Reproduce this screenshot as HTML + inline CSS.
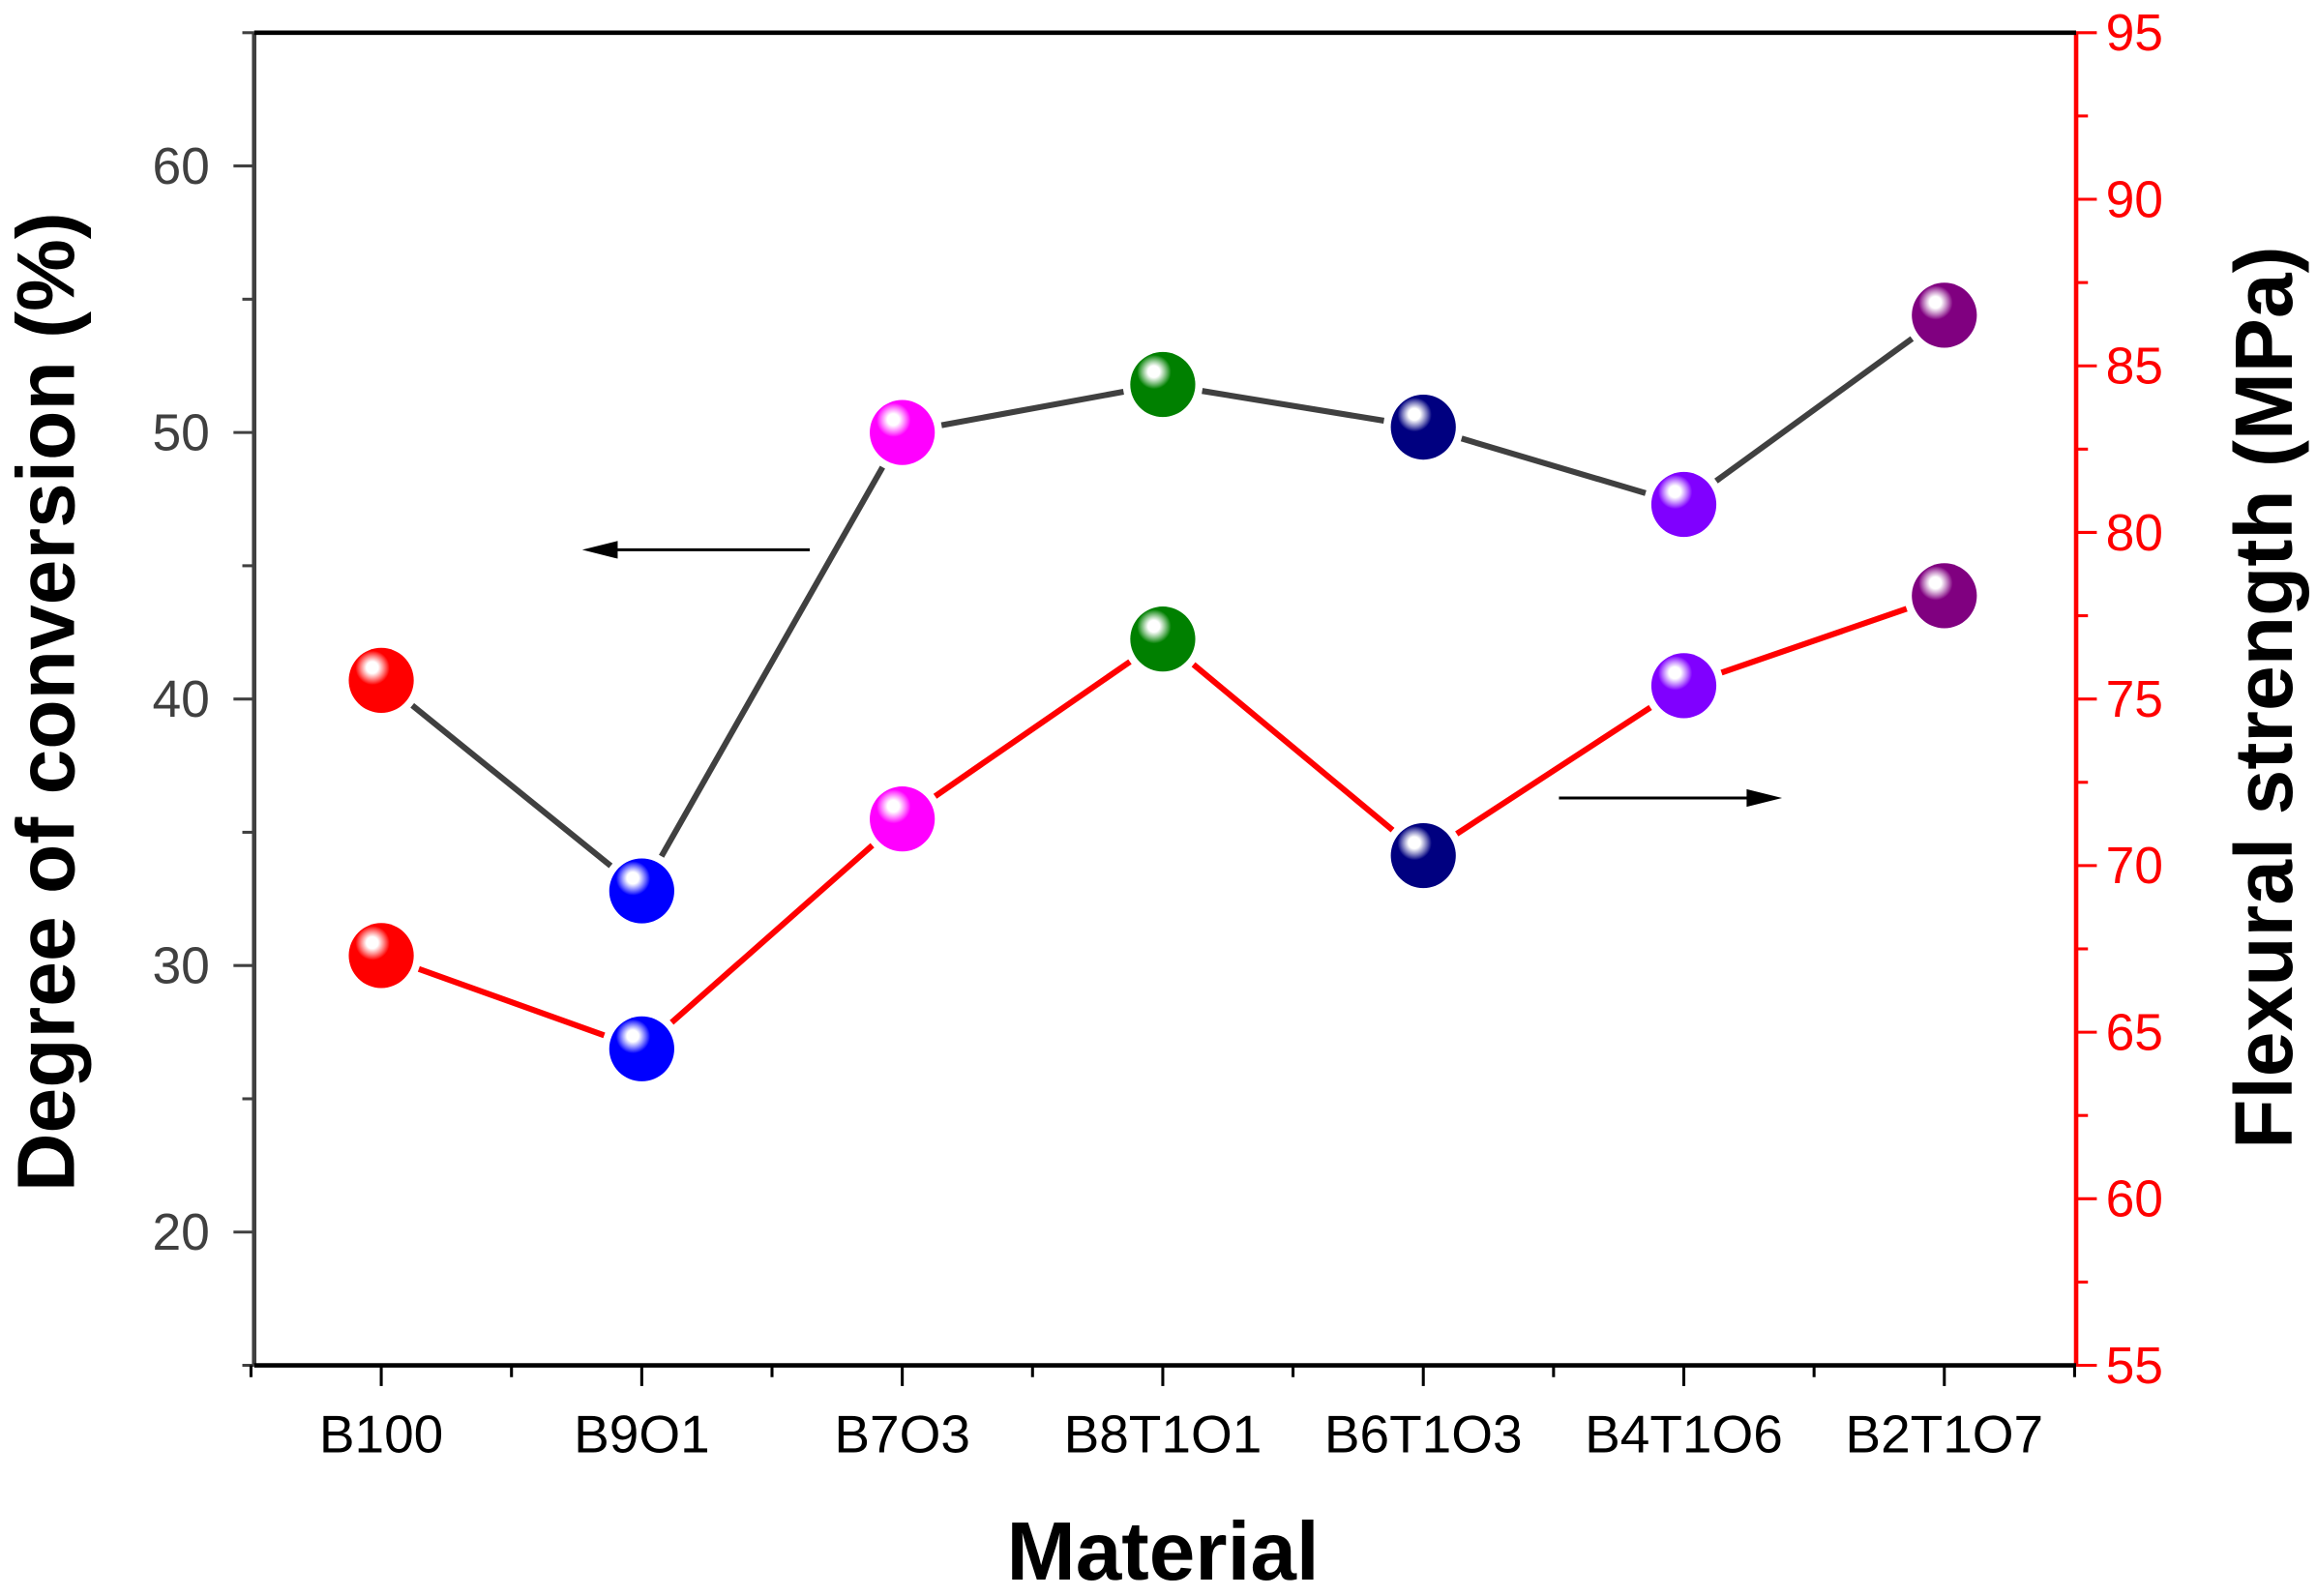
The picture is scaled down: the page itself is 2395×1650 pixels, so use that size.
<!DOCTYPE html>
<html><head><meta charset="utf-8"><style>
html,body{margin:0;padding:0;background:#fff}
svg{display:block}
text{font-family:"Liberation Sans",Arial,sans-serif}
</style></head><body>
<svg id="chart" width="2395" height="1650" viewBox="0 0 1568 1080" xmlns="http://www.w3.org/2000/svg">
<defs id="defs"></defs>
<g id="axes"></g>
<g id="series"></g>
<text x="0" y="0" transform="translate(50,475) rotate(-90)" text-anchor="middle" font-size="55" font-weight="bold" fill="#000">Degree of conversion (%)</text>
<text x="0" y="0" transform="translate(1551,472) rotate(-90)" text-anchor="middle" font-size="55" font-weight="bold" fill="#000">Flexural strength (MPa)</text>
<text x="787" y="1069" text-anchor="middle" font-size="56" font-weight="bold" fill="#000">Material</text>
<g>
<line x1="548" y1="372" x2="410" y2="372" stroke="#000" stroke-width="2"/>
<polygon points="394,372 418,366 418,378" fill="#000"/>
</g>
<g>
<line x1="1055" y1="540" x2="1190" y2="540" stroke="#000" stroke-width="2"/>
<polygon points="1206,540 1182,534 1182,546" fill="#000"/>
</g>
</svg>
<script>
const categories = ["B100","B9O1","B7O3","B8T1O1","B6T1O3","B4T1O6","B2T1O7"];
const conversion = [40.7, 32.8, 50.0, 51.8, 50.2, 47.3, 54.4];
const flexural = [67.3, 64.5, 71.4, 76.8, 70.3, 75.4, 78.1];
const markerColors = ["#ff0000","#0000ff","#ff00ff","#008000","#000080","#8000ff","#800080"];
const leftTicks = [20,30,40,50,60];
const rightTicks = [55,60,65,70,75,80,85,90,95];

const NS="http://www.w3.org/2000/svg";
const L=172,R=1405,T=22,B=924;
const xs=i=>258+i*176.3;
const yl=v=>B-(v-15)/50*(B-T);
const yr=v=>B-(v-55)/40*(B-T);
function mk(tag,attrs,parent){const e=document.createElementNS(NS,tag);for(const k in attrs)e.setAttribute(k,attrs[k]);parent.appendChild(e);return e;}
const axes=document.getElementById('axes'),series=document.getElementById('series'),defs=document.getElementById('defs');
let e;
e=mk('line',{x1:L,y1:T,x2:L,y2:B,stroke:'#404040','stroke-width':3},axes);


e=mk('line',{x1:R,y1:T,x2:R,y2:B,stroke:'#ff0000','stroke-width':3},axes);


e=mk('line',{x1:L,y1:B,x2:R,y2:B,stroke:'#000','stroke-width':3},axes);


e=mk('line',{x1:L,y1:T,x2:R,y2:T,stroke:'#000','stroke-width':3},axes);


for(let v=15;v<=65;v+=5){const y=yl(v);const major=v%10===0;
 mk('line',{x1:L-(major?14:8),y1:y,x2:L,y2:y,stroke:'#404040','stroke-width':2},axes);}
leftTicks.forEach(v=>{const t=mk('text',{x:L-30,y:yl(v)+12,'text-anchor':'end','font-size':35,fill:'#404040'},axes);t.textContent=v;
 
 });
for(let v=55;v<=95;v+=2.5){const y=yr(v);const major=v%5===0;
 mk('line',{x1:R,y1:y,x2:R+(major?14:8),y2:y,stroke:'#ff0000','stroke-width':2},axes);}
rightTicks.forEach(v=>{const t=mk('text',{x:R+20,y:yr(v)+12,'font-size':35,fill:'#ff0000'},axes);t.textContent=v;
 
 });
for(let i=-0.5;i<=6.5;i+=0.5){const x=xs(i);const major=Number.isInteger(i);
 mk('line',{x1:x,y1:B,x2:x,y2:B+(major?14:8),stroke:'#000','stroke-width':2},axes);}
categories.forEach((c,i)=>{const t=mk('text',{x:xs(i),y:B+59,'text-anchor':'middle','font-size':36,fill:'#000'},axes);t.textContent=c;
 
 });
markerColors.forEach((c,i)=>{const g=mk('radialGradient',{id:'g'+i,cx:'0.38',cy:'0.32',r:'0.75',fx:'0.36',fy:'0.3'},defs);
 mk('stop',{offset:'0',  'stop-color':'#ffffff'},g);
 mk('stop',{offset:'0.12','stop-color':'#ffffff','stop-opacity':'0.9'},g);
 mk('stop',{offset:'0.35','stop-color':c},g);
 mk('stop',{offset:'1','stop-color':c},g);});
function drawLine(vals,yf,color,name){
 const g=mk('g',{},series);
 
 
 for(let i=0;i<vals.length-1;i++){
  const x1=xs(i),y1=yf(vals[i]),x2=xs(i+1),y2=yf(vals[i+1]);
  const dx=x2-x1,dy=y2-y1,d=Math.hypot(dx,dy),gap=27;
  mk('line',{x1:x1+dx/d*gap,y1:y1+dy/d*gap,x2:x2-dx/d*gap,y2:y2-dy/d*gap,stroke:color,'stroke-width':4},g);}
 vals.forEach((v,i)=>{const c=mk('circle',{cx:xs(i),cy:yf(v),r:22,fill:'url(#g'+i+')'},g);
  
  });
}
drawLine(conversion,yl,'#404040','conversion-series');
drawLine(flexural,yr,'#ff0000','flexural-series');
</script>
</body></html>
